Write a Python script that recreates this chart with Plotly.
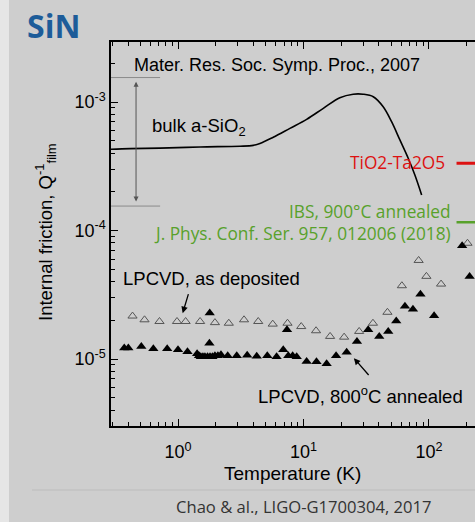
import math
import plotly.graph_objects as go

# ---- data -------------------------------------------------------------
# bulk amorphous SiO2 internal friction (Mater. Res. Soc. Symp. Proc., 2007)
bulk_T = [0.292, 0.415, 0.719, 1.50, 3.12, 3.98, 4.50, 5.75, 7.80, 10.6, 14.4,
          19.5, 24.9, 29.9, 36.0, 43.2, 50.4, 58.7, 68.4, 77.3, 87.5]
bulk_Q = [4.29e-4, 4.34e-4, 4.38e-4, 4.47e-4, 4.53e-4, 4.60e-4, 4.75e-4, 5.32e-4,
          6.24e-4, 7.33e-4, 8.93e-4, 1.08e-3, 1.15e-3, 1.15e-3, 1.10e-3, 9.19e-4,
          7.03e-4, 5.07e-4, 3.65e-4, 2.70e-4, 1.89e-4]

# LPCVD SiN film, as deposited
dep_T = [0.434, 0.541, 0.712, 0.982, 1.15, 1.50, 1.97, 2.54, 3.36, 4.36, 5.69,
         7.46, 9.60, 12.6, 16.3, 21.1, 27.8, 35.8, 46.7, 60.9, 82.8, 95.5, 125, 203]
dep_Q = [2.16e-5, 2.02e-5, 1.96e-5, 1.96e-5, 1.96e-5, 1.96e-5, 1.92e-5, 1.90e-5,
         2.02e-5, 1.96e-5, 1.87e-5, 1.90e-5, 1.79e-5, 1.66e-5, 1.50e-5, 1.48e-5,
         1.64e-5, 1.90e-5, 2.31e-5, 3.72e-5, 5.85e-5, 4.40e-5, 3.83e-5, 7.96e-5]

# LPCVD SiN film, 800 C annealed
ann_T = [0.373, 0.402, 0.510, 0.636, 0.820, 1.00, 1.19,
         1.42, 1.47, 1.52, 1.58, 1.64, 1.72, 1.80, 1.88, 1.97, 2.08, 2.20,
         1.78, 1.79, 2.49, 2.94, 3.56, 4.24, 5.15, 6.11, 6.90, 7.39, 7.57, 8.20,
         8.83, 10.6, 12.7, 15.3, 18.2, 22.1, 26.7, 32.8, 40.2, 47.4, 54.9, 64.4,
         74.6, 85.6, 110, 184, 211]
ann_Q = [1.22e-5, 1.22e-5, 1.25e-5, 1.20e-5, 1.20e-5, 1.18e-5, 1.14e-5,
         1.10e-5, 1.06e-5, 1.04e-5, 1.04e-5, 1.04e-5, 1.04e-5, 1.04e-5, 1.04e-5,
         1.06e-5, 1.06e-5, 1.08e-5,
         1.33e-5, 2.28e-5, 1.06e-5, 1.06e-5, 1.07e-5, 1.05e-5, 1.06e-5, 1.04e-5,
         1.18e-5, 1.69e-5, 1.06e-5, 1.06e-5, 1.04e-5, 9.57e-6, 9.51e-6, 9.18e-6,
         1.06e-5, 1.13e-5, 1.37e-5, 1.69e-5, 1.50e-5, 1.64e-5, 1.98e-5, 2.58e-5,
         2.44e-5, 3.20e-5, 2.17e-5, 7.63e-5, 4.39e-5]

# spread of bulk a-SiO2 values (bracket lines)
sio2_span = [1.55e-4, 1.55e-3]
sio2_span_T = [0.2, 0.72]
sio2_arrow_T = 0.463
sio2_arrow_Q = [1.64e-4, 1.44e-3]

# coating reference levels
tita_Q = 3.34e-4
ibs_Q = 1.16e-4
level_T = [166, 1000]

x_tickvals = [1, 10, 100]
x_ticktext = ["10<sup>0</sup>", "10<sup>1</sup>", "10<sup>2</sup>"]
y_tickvals = [1e-5, 1e-4, 1e-3]
y_ticktext = ["10<sup>-5</sup>", "10<sup>-4</sup>", "10<sup>-3</sup>"]

# ---- geometry ---------------------------------------------------------
W_FIG, H_FIG = 475, 522
L, T, PW, PH = 111, 42, 364, 384
BG = "#cecece"
ARIAL = "Liberation Sans, Arial, sans-serif"
SLIDE = "Open Sans, sans-serif"


def px(x):
    return (x - L) / PW


def py(y):
    return (T + PH - y) / PH


def minor_vals(lo, hi):
    vals = []
    for e in range(lo, hi):
        vals += [k * 10 ** e for k in range(2, 10)]
    return vals


fig = go.Figure()

fig.add_trace(go.Scatter(x=bulk_T, y=bulk_Q, mode="lines",
                         line=dict(color="black", width=1.6, shape="spline", smoothing=1.0),
                         showlegend=False, hoverinfo="skip"))

for q in sio2_span:
    fig.add_trace(go.Scatter(x=sio2_span_T, y=[q, q], mode="lines",
                             line=dict(color="#8a8a8a", width=1),
                             showlegend=False, hoverinfo="skip"))

fig.add_trace(go.Scatter(x=level_T, y=[tita_Q, tita_Q], mode="lines",
                         line=dict(color="#dd1111", width=3),
                         showlegend=False, hoverinfo="skip"))
fig.add_trace(go.Scatter(x=level_T, y=[ibs_Q, ibs_Q], mode="lines",
                         line=dict(color="#58a12b", width=2.5),
                         showlegend=False, hoverinfo="skip"))

fig.add_trace(go.Scatter(x=dep_T, y=dep_Q, mode="markers",
                         marker=dict(symbol="triangle-up-open", size=8,
                                     color="#555555", line=dict(width=1, color="#555555")),
                         showlegend=False, hoverinfo="skip"))
fig.add_trace(go.Scatter(x=ann_T, y=ann_Q, mode="markers",
                         marker=dict(symbol="triangle-up", size=9, color="black",
                                     line=dict(width=0)),
                         showlegend=False, hoverinfo="skip"))

annotations = []

# double-headed arrow across the SiO2 spread
annotations.append(dict(
    x=math.log10(sio2_arrow_T), y=math.log10(sio2_arrow_Q[1]),
    ax=math.log10(sio2_arrow_T), ay=math.log10(sio2_arrow_Q[0]),
    xref="x", yref="y", axref="x", ayref="y", text="", showarrow=True,
    arrowhead=2, startarrowhead=2, arrowside="end+start", arrowsize=1,
    arrowwidth=1, arrowcolor="#555555"))

# pointer arrows for the two film series
annotations.append(dict(
    x=math.log10(1.09), y=-4.643, ax=math.log10(1.22), ay=-4.483,
    xref="x", yref="y", axref="x", ayref="y", text="", showarrow=True,
    arrowhead=2, arrowsize=1, arrowwidth=1.3, arrowcolor="black"))
annotations.append(dict(
    x=1.402, y=-4.993, ax=1.530, ay=-5.136,
    xref="x", yref="y", axref="x", ayref="y", text="", showarrow=True,
    arrowhead=2, arrowsize=1, arrowwidth=1.3, arrowcolor="black"))


def label(text, x, y, size, color="black", family=ARIAL, xanchor="left", bold=False):
    annotations.append(dict(
        text=f"<b>{text}</b>" if bold else text, x=px(x), y=py(y),
        xref="paper", yref="paper", xanchor=xanchor, yanchor="middle",
        showarrow=False, font=dict(size=size, color=color, family=family)))


label("Mater. Res. Soc. Symp. Proc., 2007", 132, 65, 18)
label("bulk a-SiO<sub>2</sub>", 150, 127, 18.5)
label("LPCVD, as deposited", 121, 278, 18.5)
label("LPCVD, 800<sup>o</sup>C annealed", 256, 395, 18.5)
label("TiO2-Ta2O5", 447, 162, 17.3, color="#dd1111", family=SLIDE, xanchor="right")
label("IBS, 900°C annealed", 453, 211, 17.3, color="#58a12b", family=SLIDE, xanchor="right")
label("J. Phys. Conf. Ser. 957, 012006 (2018)", 453, 233, 17.3, color="#58a12b",
      family=SLIDE, xanchor="right")
label("SiN", 25, 25, 32, color="#1d5c99", family=SLIDE, bold=True)
label("Temperature (K)", 292, 473, 19, xanchor="center")
label("Chao &amp; al., LIGO-G1700304, 2017", 304, 506, 16.6, color="#333333",
      family=SLIDE, xanchor="center")

# rotated y-axis title
annotations.append(dict(
    text="Internal friction, Q<sup>-1</sup><sub>film</sub>", x=px(45), y=py(232),
    xref="paper", yref="paper", xanchor="center", yanchor="middle",
    textangle=-90, showarrow=False, font=dict(size=18.5, color="black", family=ARIAL)))

shapes = [
    # footer rule
    dict(type="line", xref="paper", yref="paper", x0=px(32), x1=px(475),
         y0=py(490), y1=py(490), line=dict(color="#bcbcbc", width=1)),
    # light strip at the slide's left edge
    dict(type="rect", xref="paper", yref="paper", x0=px(0), x1=px(9),
         y0=py(522), y1=py(0), line=dict(width=0), fillcolor="#e6e6e6", layer="below"),
]

fig.update_layout(
    width=W_FIG, height=H_FIG,
    margin=dict(l=L, r=W_FIG - L - PW, t=T, b=H_FIG - T - PH),
    paper_bgcolor=BG, plot_bgcolor=BG,
    annotations=annotations, shapes=shapes,
    xaxis=dict(type="log", range=[math.log10(0.2924), math.log10(233)],
               showline=True, linecolor="black", linewidth=1.5, mirror="ticks",
               ticks="inside", ticklen=7, tickwidth=1.3, tickcolor="black",
               tickvals=x_tickvals, ticktext=x_ticktext, showgrid=False, zeroline=False,
               ticklabelstandoff=9,
               tickfont=dict(family=ARIAL, size=18, color="black"),
               minor=dict(ticks="inside", ticklen=4, tickwidth=1.1, tickcolor="black",
                          tickvals=minor_vals(-1, 3), showgrid=False)),
    yaxis=dict(type="log", range=[-5.521, -2.533],
               showline=True, linecolor="black", linewidth=1.5, mirror=False,
               ticks="inside", ticklen=7, tickwidth=1.3, tickcolor="black",
               tickvals=y_tickvals, ticktext=y_ticktext, showgrid=False, zeroline=False,
               tickfont=dict(family=ARIAL, size=18, color="black"),
               minor=dict(ticks="inside", ticklen=4, tickwidth=1.1, tickcolor="black",
                          tickvals=minor_vals(-6, -2), showgrid=False)),
)

fig.write_html("out.html")
